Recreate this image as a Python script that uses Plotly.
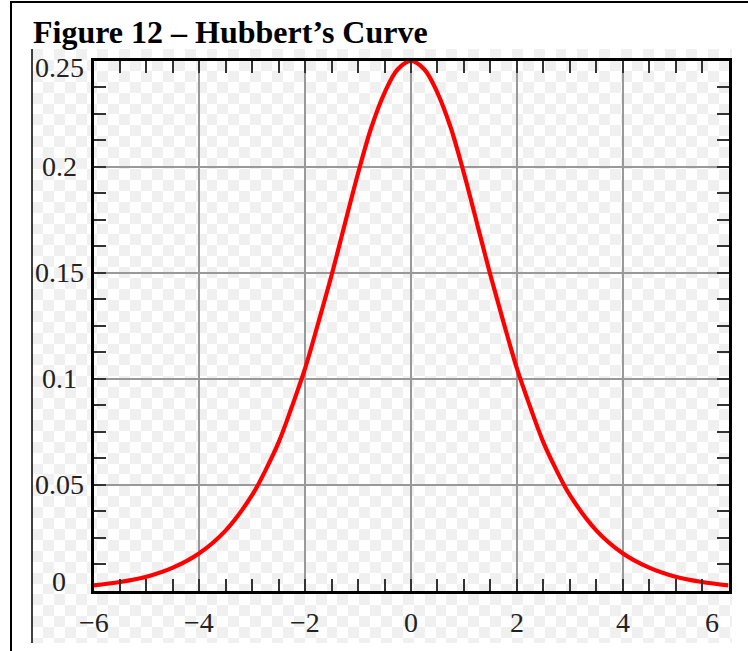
import numpy as np
import plotly.graph_objects as go

W, H = 748, 651

# curve values
x_vals = [-6.0, -5.5, -5.0, -4.5, -4.0, -3.5, -3.0, -2.75, -2.5, -2.25, -2.0, -1.75, -1.5, -1.25,
          -1.0, -0.75, -0.5, -0.25, 0.0, 0.25, 0.5, 0.75, 1.0, 1.25, 1.5, 1.75, 2.0, 2.25, 2.5,
          2.75, 3.0, 3.5, 4.0, 4.5, 5.0, 5.5, 6.0]
y_vals = [0.0025, 0.0041, 0.0066, 0.0109, 0.0177, 0.0285, 0.0452, 0.0568, 0.0701, 0.0869, 0.105,
          0.1266, 0.149, 0.1731, 0.197, 0.2186, 0.235, 0.2461, 0.25, 0.2461, 0.235, 0.2186, 0.197,
          0.1731, 0.149, 0.1266, 0.105, 0.0869, 0.0701, 0.0568, 0.0452, 0.0285, 0.0177, 0.0109,
          0.0066, 0.0041, 0.0025]

x_ticks = [-6, -4, -2, 0, 2, 4, 6]
x_tick_text = ['−6', '−4', '−2', '0', '2', '4', '6']
y_ticks = [0, 0.05, 0.1, 0.15, 0.2, 0.25]
y_tick_text = ['0', '0.05', '0.1', '0.15', '0.2', '0.25']
title = 'Figure 12 – Hubbert’s Curve'


def px(x):
    return x / W


def py(y):
    return 1 - y / H


# transparent-background checkerboard behind the chart
sq = 10.9
n_cols, n_rows = 65, 55
checker = (np.add.outer(np.arange(n_rows), np.arange(n_cols)) % 2).astype(float)

fig = go.Figure()
fig.add_trace(go.Heatmap(
    z=checker, x=np.arange(n_cols) * sq + sq / 2, y=np.arange(n_rows) * sq + sq / 2,
    colorscale=[[0, '#f0f0f0'], [1, '#ffffff']], showscale=False, hoverinfo='skip',
    xaxis='x', yaxis='y'))

fig.add_trace(go.Scatter(
    x=x_vals, y=y_vals, mode='lines', line=dict(color='#ff0000', width=4.2, shape='spline'),
    xaxis='x2', yaxis='y2', showlegend=False))

tick_font = dict(family='Liberation Serif', size=28, color='#222222')
annotations = [dict(text='<b>' + title + '</b>', xref='paper', yref='paper', x=px(31), y=py(12),
                    xanchor='left', yanchor='top', showarrow=False,
                    font=dict(family='Liberation Serif', size=32, color='black'))]
for v, t in zip(y_ticks, y_tick_text):
    shift = 0
    if v == 0:
        shift = 9
    elif v == 0.25:
        shift = -7
    annotations.append(dict(text=t, xref='paper', yref='y2', x=px(59), y=v, yshift=shift,
                            xanchor='center', yanchor='middle', showarrow=False, font=tick_font))
for v, t in zip(x_ticks, x_tick_text):
    annotations.append(dict(text=t, xref='x2', yref='paper', x=v, y=py(622),
                            xshift=-17 if v == 6 else 0,
                            xanchor='center', yanchor='middle', showarrow=False, font=tick_font))

# page frame (top and left edges) and the left edge of the embedded picture
frame_path = 'M 1,{t} L {l},{t} L {l},0'.format(t=py(2), l=px(11))
shapes = [
    dict(type='path', xref='paper', yref='paper', path=frame_path,
         line=dict(color='black', width=2)),
    dict(type='path', xref='paper', yref='paper',
         path='M {x},{a} L {x},{b}'.format(x=px(32), a=py(49), b=py(643)),
         line=dict(color='black', width=1.5)),
]

axis_common = dict(showline=True, linewidth=3, linecolor='black', mirror='ticks',
                   ticks='inside', ticklen=12, tickwidth=2, tickcolor='#333333',
                   showgrid=True, gridcolor='#999999', gridwidth=2, zeroline=False,
                   showticklabels=False, fixedrange=True)

fig.update_layout(
    width=W, height=H,
    margin=dict(l=0, r=0, t=0, b=0),
    paper_bgcolor='white', plot_bgcolor='rgba(0,0,0,0)',
    xaxis=dict(domain=[px(32), px(732)], range=[0, 700], visible=False, fixedrange=True),
    yaxis=dict(domain=[py(643), py(49)], range=[594, 0], visible=False, fixedrange=True),
    xaxis2=dict(domain=[px(93.5), px(728.5)], range=[-6, 6], anchor='y2', dtick=2, tick0=0,
                minor=dict(dtick=0.5, ticks='inside', ticklen=12, tickwidth=2, tickcolor='#333333',
                           showgrid=False),
                **axis_common),
    yaxis2=dict(domain=[py(590.7), py(61)], range=[0, 0.25], anchor='x2', dtick=0.05, tick0=0,
                minor=dict(dtick=0.0125, ticks='inside', ticklen=12, tickwidth=2, tickcolor='#333333',
                           showgrid=False),
                **axis_common),
    annotations=annotations,
    shapes=shapes,
    showlegend=False,
)

# the page body has a default 8px margin; drop it so the figure sits at the window corner
fig.write_html("out.html", config={'displayModeBar': False},
               post_script="document.body.style.margin='0';")
